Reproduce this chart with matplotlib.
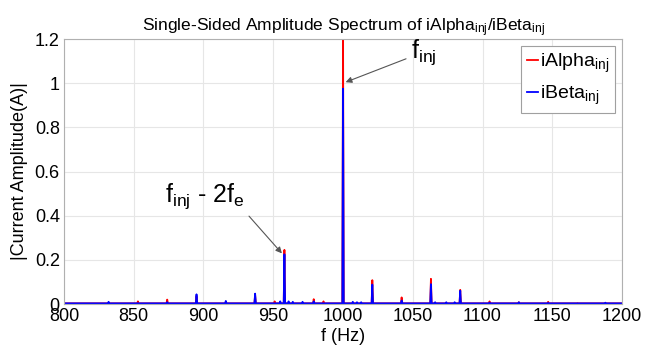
import numpy as np
import matplotlib
matplotlib.use("Agg")
import matplotlib.pyplot as plt

plt.rcParams['font.family'] = ['Liberation Sans', 'DejaVu Sans']
plt.rcParams['mathtext.default'] = 'regular'

# frequency resolution of the spectrum (Hz) and noise floor
df = 0.5
floor = 0.003

# harmonic peaks: frequency (Hz), amplitude (A)
alpha_freq = [832, 853, 874, 895, 916, 937, 951, 958, 979, 986, 1000, 1021, 1042, 1063, 1084, 1105, 1126, 1147, 1168]
alpha_amp = [0.006, 0.012, 0.02, 0.035, 0.008, 0.04, 0.012, 0.245, 0.022, 0.012, 1.25, 0.108, 0.03, 0.114, 0.064, 0.012, 0.008, 0.01, 0.004]
beta_freq = [832, 853, 874, 895, 916, 937, 955, 958, 961, 964, 971, 979, 1000, 1007, 1010, 1013, 1021, 1042, 1063, 1066, 1074, 1080, 1084, 1105, 1126, 1147, 1188]
beta_amp = [0.01, 0.004, 0.008, 0.044, 0.014, 0.047, 0.012, 0.225, 0.012, 0.01, 0.01, 0.012, 0.975, 0.01, 0.008, 0.008, 0.088, 0.016, 0.09, 0.008, 0.008, 0.008, 0.06, 0.006, 0.008, 0.005, 0.006]

f = np.arange(800, 1200 + df, df)


def spectrum(freqs, amps):
    a = np.full(f.shape, floor)
    for fr, am in zip(freqs, amps):
        a[int(round((fr - 800) / df))] = am
    return a


ia = spectrum(alpha_freq, alpha_amp)
ib = spectrum(beta_freq, beta_amp)

fig = plt.figure(figsize=(6.46, 3.63), dpi=100)
ax = fig.add_axes([0.099, 0.1625, 0.864, 0.730])

ax.plot(f, ia, color='#ff0000', lw=1.3, label='iAlpha$_{inj}$')
ax.plot(f, ib, color='#0000ff', lw=1.3, label='iBeta$_{inj}$')

ax.set_xlim(800, 1200)
ax.set_ylim(0, 1.2)
ax.set_xticks(np.arange(800, 1201, 50))
ax.set_yticks([0, 0.2, 0.4, 0.6, 0.8, 1.0, 1.2])
ax.set_yticklabels(['0', '0.2', '0.4', '0.6', '0.8', '1', '1.2'])
ax.tick_params(labelsize=13, length=0, pad=3)
ax.grid(True, color='#e6e6e6', lw=0.8)
ax.set_axisbelow(True)
for s in ax.spines.values():
    s.set_color('#b0b0b0')
    s.set_linewidth(0.8)

ax.set_title('Single-Sided Amplitude Spectrum of iAlpha$_{inj}$/iBeta$_{inj}$', fontsize=12.5, pad=5)
ax.set_xlabel('f (Hz)', fontsize=13, labelpad=2)
ax.set_ylabel('|Current Amplitude(A)|', fontsize=13, labelpad=5)

arrow = dict(arrowstyle='-|>', color='#555555', lw=0.8, mutation_scale=9)
ax.annotate('f$_{inj}$', xy=(1000, 1.0), xytext=(1049, 1.075), fontsize=18,
            ha='left', va='bottom', arrowprops=arrow)
ax.annotate('f$_{inj}$ - 2f$_{e}$', xy=(957.5, 0.22), xytext=(901, 0.42), fontsize=18,
            ha='center', va='bottom', arrowprops=dict(arrow, relpos=(1.0, 0.0)))

leg = ax.legend(loc='upper right', fontsize=14, handlelength=0.6, handletextpad=0.1,
                borderpad=0.3, labelspacing=0.45, fancybox=False, framealpha=1,
                borderaxespad=0.35)
leg.get_frame().set_edgecolor('#a0a0a0')
leg.get_frame().set_linewidth(0.8)

fig.savefig('out.png', dpi=100)
